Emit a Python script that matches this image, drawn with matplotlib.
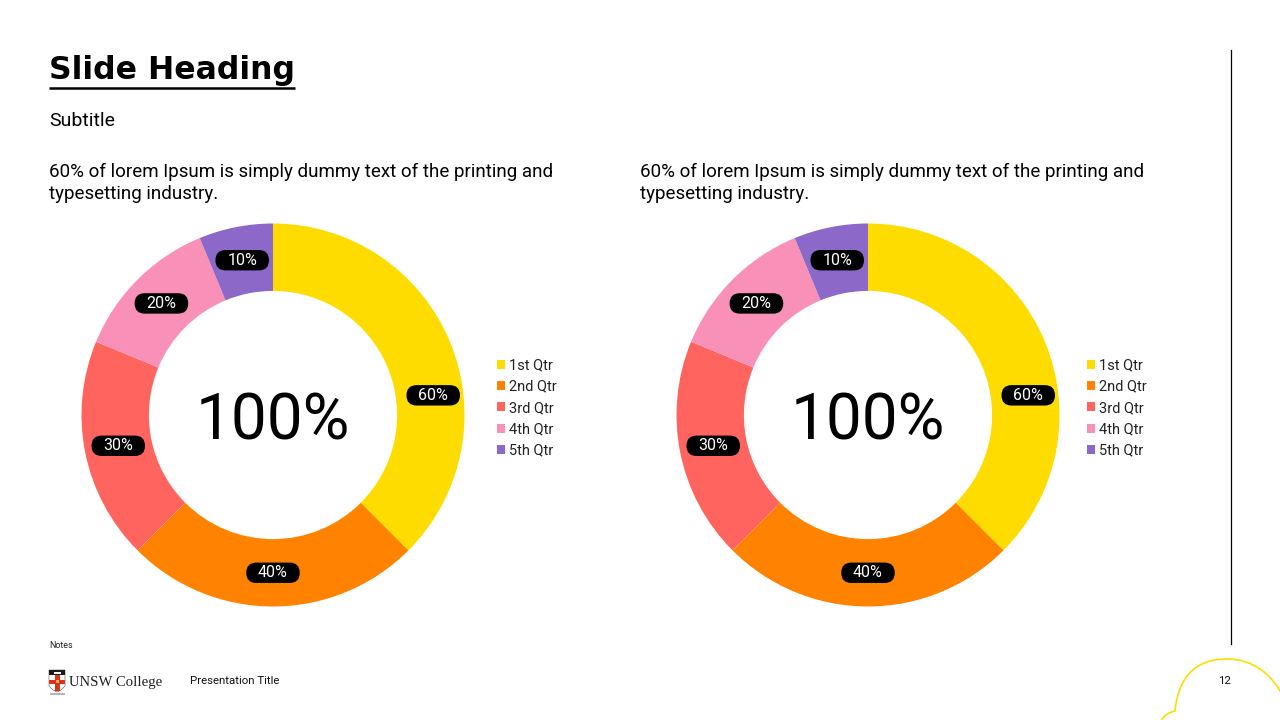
#!/usr/bin/env python3
"""Slide with two quarterly doughnut charts."""

import math

import matplotlib

matplotlib.use("Agg")

from matplotlib import pyplot as plt
from matplotlib.lines import Line2D
from matplotlib.patches import BoxStyle, PathPatch, Polygon, Rectangle
from matplotlib.path import Path

# data
QUARTERS = ["1st Qtr", "2nd Qtr", "3rd Qtr", "4th Qtr", "5th Qtr"]
LEFT_VALUES = [60, 40, 30, 20, 10]
RIGHT_VALUES = [60, 40, 30, 20, 10]
CENTER_LABEL = "100%"
CAPTION_LINES = [
    "60% of lorem Ipsum is simply dummy text of the printing and",
    "typesetting industry.",
]
HEADING = "Slide Heading"
SUBTITLE = "Subtitle"
NOTES = "Notes"
FOOTER_TITLE = "Presentation Title"
PAGE_NUMBER = "12"

COLORS = ["#FFDC00", "#FF8300", "#FF655E", "#F990B8", "#8C69C8"]
W, H = 1280, 720
RING_WIDTH = 0.352
FIRST_LABEL_NUDGE = -15.5  # degrees, the 60% label sits lower than the wedge middle

plt.rcParams["font.family"] = ["Roboto", "DejaVu Sans"]


def pill_box(x0, y0, width, height, mutation_size):
    pad_x = 0.74 * mutation_size
    pad_y = 0.17 * mutation_size
    h = height + 2 * pad_y
    style = BoxStyle.Round(pad=0, rounding_size=h / 2 / mutation_size)
    return style(x0 - pad_x, y0 - pad_y, width + 2 * pad_x, h, mutation_size)


def px_axes(fig, cx, cy, r):
    return fig.add_axes([(cx - r) / W, (H - cy - r) / H, 2 * r / W, 2 * r / H])


def donut(fig, bg, values, cx, cy, legend_x):
    r = 191.5
    ax = px_axes(fig, cx, cy, r)
    total = sum(values)
    wedges, _, autotexts = ax.pie(
        values,
        colors=COLORS,
        startangle=90,
        counterclock=False,
        radius=1.0,
        autopct=lambda p: f"{p * total / 100:.0f}%",
        pctdistance=1 - RING_WIDTH / 2,
        wedgeprops={"width": RING_WIDTH, "linewidth": 0},
        textprops={"color": "white", "fontsize": 11.5},
    )
    ax.set_xlim(-1, 1)
    ax.set_ylim(-1, 1)
    ax.set_aspect("equal")
    ax.axis("off")

    # nudge the first label like the original slide does
    w0 = wedges[0]
    mid = math.radians((w0.theta1 + w0.theta2) / 2 + FIRST_LABEL_NUDGE)
    rr = 0.843
    autotexts[0].set_position((rr * math.cos(mid), rr * math.sin(mid)))

    for t in autotexts:
        t.set_bbox({"boxstyle": pill_box, "facecolor": "black", "edgecolor": "none"})
        t.set_clip_on(False)

    bg.text(cx, cy + 24, CENTER_LABEL, ha="center", va="baseline", fontsize=46, color="black")

    ax.legend(
        wedges,
        QUARTERS,
        loc="center left",
        bbox_to_anchor=(legend_x, 408),
        bbox_transform=bg.transData,
        frameon=False,
        fontsize=10.5,
        handlelength=0.55,
        handleheight=0.55,
        handletextpad=0.27,
        labelspacing=0.5,
        borderpad=0,
        borderaxespad=0,
        labelcolor="#222222",
    )
    return ax


def draw_logo(bg):
    # crest
    shield = Polygon(
        [(49, 670), (65, 670), (65, 686), (61, 690), (57, 692), (53, 690), (49, 686)],
        closed=True, facecolor="white", edgecolor="#555555", linewidth=0.4,
    )
    bg.add_patch(shield)
    bg.add_patch(Rectangle((49, 670), 16, 5, facecolor="#1a1a1a", edgecolor="none"))
    bg.add_patch(Rectangle((53.5, 671.5), 7, 2.2, facecolor="white", edgecolor="none"))
    bg.add_patch(Rectangle((54.5, 675), 5, 16, facecolor="#E0301E", edgecolor="none"))
    bg.add_patch(Rectangle((49, 679.5), 16, 4.5, facecolor="#E0301E", edgecolor="none"))
    bg.add_patch(Rectangle((55.5, 680.3), 3, 3, facecolor="#E8B93A", edgecolor="none"))
    bg.add_patch(Rectangle((49.5, 692.5), 15, 2.2, facecolor="#B8B8B8", edgecolor="none"))
    bg.text(69, 686, "UNSW College", ha="left", va="baseline", fontsize=10.6,
            family=["Liberation Serif"], color="#231F20")


def main():
    fig = plt.figure(figsize=(W / 100, H / 100), dpi=100)
    bg = fig.add_axes([0, 0, 1, 1])
    bg.set_xlim(0, W)
    bg.set_ylim(H, 0)
    bg.axis("off")

    head = bg.text(49, 79, HEADING, ha="left", va="baseline", fontsize=22.7,
                   fontweight="bold", family=["DejaVu Sans"], color="black")
    bg.text(49, 125.5, SUBTITLE, ha="left", va="baseline", fontsize=14, color="black")
    for x in (49, 640):
        for i, line in enumerate(CAPTION_LINES):
            bg.text(x, 177 + 22 * i, line, ha="left", va="baseline", fontsize=13.5,
                    color="black")

    donut(fig, bg, LEFT_VALUES, 273, 415, 497)
    donut(fig, bg, RIGHT_VALUES, 868, 415, 1087)

    # underline of the heading
    fig.canvas.draw()
    ext = head.get_window_extent()
    bg.add_line(Line2D([ext.x0, ext.x1], [88, 88], color="black", linewidth=1.8,
                       solid_capstyle="butt"))

    # right divider
    bg.add_line(Line2D([1231, 1231], [50, 644], color="black", linewidth=0.9))

    # decorative yellow curve, bottom right
    verts = [
        (1161, 721), (1165, 713), (1175, 711),
        (1175, 711),
        (1179, 672), (1200, 659), (1227, 659),
        (1253, 659), (1272, 674), (1284, 698),
    ]
    codes = [Path.MOVETO, Path.CURVE3, Path.CURVE3, Path.LINETO,
             Path.CURVE4, Path.CURVE4, Path.CURVE4,
             Path.CURVE4, Path.CURVE4, Path.CURVE4]
    bg.add_patch(PathPatch(Path(verts, codes), facecolor="none", edgecolor="#FFDC00",
                           linewidth=1.2, clip_on=False))

    bg.text(49, 645, NOTES, ha="left", va="center", fontsize=6.4, color="#222222")
    draw_logo(bg)
    bg.text(190, 681, FOOTER_TITLE, ha="left", va="center", fontsize=8.2, color="#111111")
    bg.text(1225, 681, PAGE_NUMBER, ha="center", va="center", fontsize=8.2, color="#111111")

    fig.savefig("out.png", dpi=100)
    plt.close(fig)


if __name__ == "__main__":
    main()
